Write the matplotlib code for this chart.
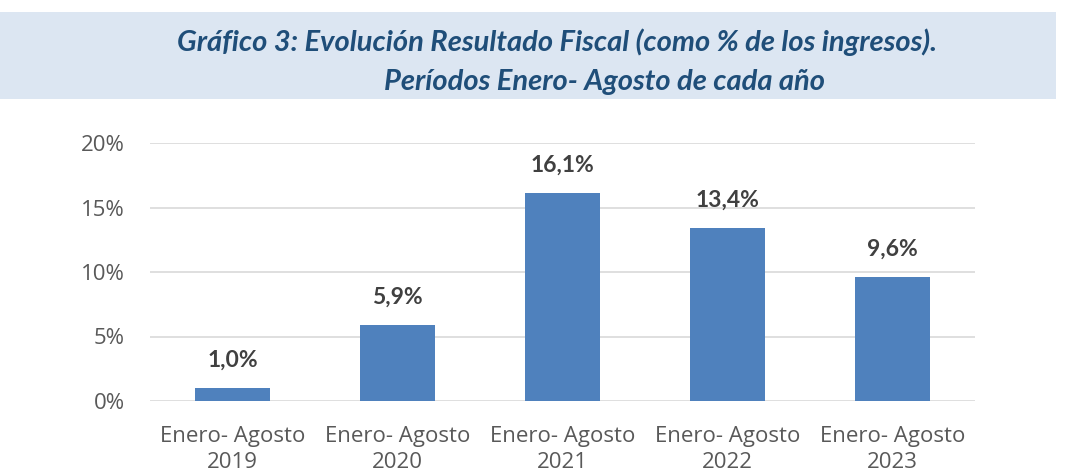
import matplotlib.pyplot as plt
from matplotlib.patches import Rectangle
from matplotlib.ticker import FuncFormatter

# data
categories = ['Enero- Agosto\n2019', 'Enero- Agosto\n2020', 'Enero- Agosto\n2021',
              'Enero- Agosto\n2022', 'Enero- Agosto\n2023']
values = [1.0, 5.9, 16.1, 13.4, 9.6]
labels = ['1,0%', '5,9%', '16,1%', '13,4%', '9,6%']
y_ticks = [0, 5, 10, 15, 20]

title_1 = 'Gráfico 3: Evolución Resultado Fiscal (como % de los ingresos).'
title_2 = 'Períodos Enero- Agosto de cada año'

plt.rcParams['font.family'] = ['Open Sans', 'DejaVu Sans']

W, H = 1072, 475
fig = plt.figure(figsize=(W / 100, H / 100), dpi=100)

# title banner
fig.patches.append(Rectangle((0, 1 - 99 / H), 1056 / W, 87 / H, transform=fig.transFigure,
                             facecolor='#DCE6F2', edgecolor='none', zorder=0))
fig.text(557 / W, 1 - 42 / H, title_1, ha='center', va='center', fontsize=21,
         fontweight='bold', fontstyle='italic', color='#1F4E79', zorder=2,
         family=['Lato', 'DejaVu Sans'])
fig.text(604 / W, 1 - 82 / H, title_2, ha='center', va='center', fontsize=21,
         fontweight='bold', fontstyle='italic', color='#1F4E79', zorder=2,
         family=['Lato', 'DejaVu Sans'])
# banner cuts the second line at its bottom edge
fig.patches.append(Rectangle((0, 1 - 115 / H), 1, 16 / H, transform=fig.transFigure,
                             facecolor='white', edgecolor='none', zorder=3))

ax = fig.add_axes([150 / W, 1 - 401 / H, 825 / W, 258 / H])
x = range(len(categories))
ax.bar(x, values, width=0.455, color='#4F81BD', zorder=2)

for xi, v, lab in zip(x, values, labels):
    ax.annotate(lab, (xi, v), xytext=(0, 28), textcoords='offset pixels',
                ha='center', va='center', fontsize=16.5, fontweight='bold', color='#404040',
                family=['Lato', 'DejaVu Sans'])

ax.set_xlim(-0.5, len(categories) - 0.5)
ax.set_ylim(0, 20)
ax.set_yticks(y_ticks)
ax.yaxis.set_major_formatter(FuncFormatter(lambda v, p: f'{v:.0f}%'))
ax.set_xticks(list(x))
ax.set_xticklabels(categories, linespacing=1.3)
ax.grid(axis='y', color='#D9D9D9', linewidth=1.2, zorder=0)
for s in ax.spines.values():
    s.set_visible(False)
ax.tick_params(length=0, labelsize=16, colors='#595959')
ax.tick_params(axis='y', pad=18)
ax.tick_params(axis='x', pad=18)

fig.savefig('out.png', dpi=100, facecolor='white')
